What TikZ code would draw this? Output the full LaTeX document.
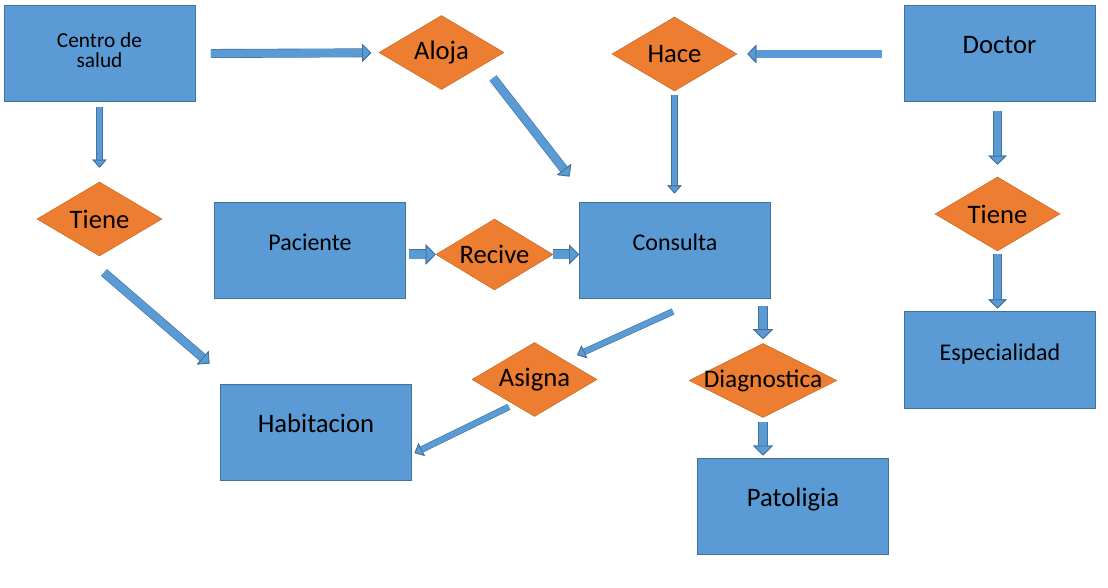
\documentclass[tikz,border=0pt]{standalone}
\usepackage{fontspec}
\setmainfont{Carlito}
\usetikzlibrary{shapes.geometric,arrows.meta}
\definecolor{boxblue}{HTML}{5B9BD5}
\definecolor{boxedge}{HTML}{41719C}
\definecolor{relorange}{HTML}{ED7D31}
\definecolor{reledge}{HTML}{C9681F}
\newcommand{\rel}[1]{\makebox[0pt]{#1}}
\begin{document}
\begin{tikzpicture}[x=0.75pt,y=-0.75pt,
	entity/.style={rectangle,fill=boxblue,draw=boxedge,line width=0.75pt,minimum width=143.25pt,minimum height=72pt,inner sep=0pt,font=\fontsize{20}{24}\selectfont,text height=10pt,text depth=10pt},
	relation/.style={diamond,fill=relorange,draw=reledge,line width=0.4pt,inner sep=0pt,minimum width=93.75pt,minimum height=55.5pt,font=\fontsize{20}{24}\selectfont},
	flowtip/.style 2 args={-{Triangle[width=#1,length=#2,fill=boxblue,color=boxedge,line width=0.6pt]}},
	flow/.style n args={3}{draw=boxblue,line width=#1,flowtip={#2}{#3},preaction={draw=boxedge,line width=#1+0.9pt,flowtip={#2}{#3}}},
	thinflow/.style={flow={4pt}{10.5pt}{6pt}},
	midflow/.style={flow={5.8pt}{13.5pt}{6.75pt}},
	fatflow/.style={flow={6.6pt}{15pt}{7.5pt}}]
	\useasboundingbox (0,0) rectangle (1108,588);
	% entities and relations
	\node[entity,font=\fontsize{16}{15}\selectfont,align=center,text height=,text depth=6pt] (centro) at (99.5,54) {Centro de\\salud};
	\node[relation] (aloja) at (441.5,52.5) {\rel{Aloja}};
	\node[relation] (hace) at (674.5,54) {\rel{Hace}};
	\node[entity] (doctor) at (999.5,54) {Doctor};
	\node[relation] (tieneA) at (99.5,219) {\rel{Tiene}};
	\node[entity,font=\fontsize{18}{22}\selectfont] (paciente) at (310,251) {Paciente};
	\node[relation,minimum width=87.75pt,minimum height=53.25pt] (recive) at (494.5,254.5) {\rel{Recive}};
	\node[entity,font=\fontsize{18}{22}\selectfont] (consulta) at (675,251) {Consulta};
	\node[relation] (tieneB) at (997.5,214) {\rel{Tiene}};
	\node[entity,font=\fontsize{18}{22}\selectfont] (especialidad) at (1000,360) {Especialidad};
	\node[entity] (habitacion) at (316,432) {Habitacion};
	\node[relation] (asigna) at (534.5,379.5) {\rel{Asigna}};
	\node[relation,minimum width=111pt,font=\fontsize{19}{22}\selectfont] (diagnostica) at (763,380.5) {\rel{Diagnostica}};
	\node[entity] (patoligia) at (793,506) {Patoligia};
	% arrows
	\draw[midflow,shorten <=11.6pt,shorten >=6pt] (centro) -- (aloja);
	\draw[thinflow,shorten <=3.75pt,shorten >=10.5pt] (centro) -- (tieneA);
	\draw[midflow] ([shift={(51.5,25.5)}]aloja.center) -- ([shift={(-9.5,-26)}]consulta.north west);
	\draw[midflow,shorten <=16.5pt,shorten >=7.5pt] (doctor) -- (hace);
	\draw[thinflow,shorten <=3pt,shorten >=6.75pt] (hace) -- (hace |- consulta.north);
	\draw[midflow,shorten <=6.75pt,shorten >=9pt] (tieneB |- doctor.south) -- (tieneB);
	\draw[midflow,shorten <=2.25pt,shorten >=2.25pt] (tieneB) -- (tieneB |- especialidad.north);
	\draw[midflow] ([shift={(4.5,53.5)}]tieneA.center) -- ([shift={(-10.5,-20)}]habitacion.north west);
	\draw[fatflow,shorten <=2.25pt] (paciente.east |- recive) -- (recive);
	\draw[fatflow] (recive) -- (consulta.west |- recive);
	\draw[thinflow] ([shift={(-2,12)}]consulta.south) -- ([shift={(11.25,-5.75)}]asigna.north east);
	\draw[thinflow] ([shift={(5.75,8.75)}]asigna.south west) -- ([shift={(2.5,21)}]habitacion.east);
	\draw[fatflow,shorten <=5.25pt,shorten >=3pt] (consulta.south -| diagnostica) -- (diagnostica);
	\draw[fatflow,shorten <=3pt,shorten >=1.5pt] (diagnostica) -- (diagnostica |- patoligia.north);
\end{tikzpicture}
\end{document}
